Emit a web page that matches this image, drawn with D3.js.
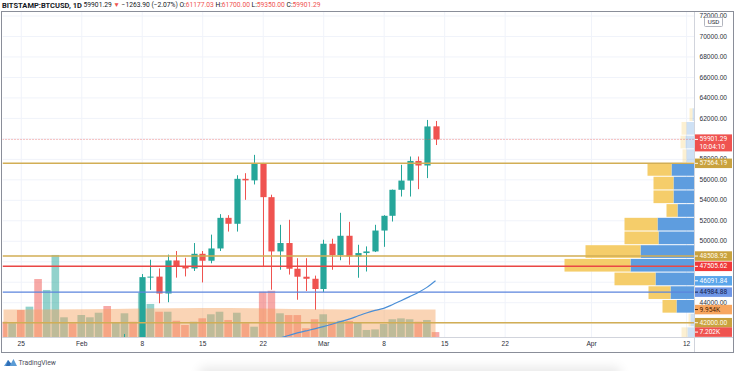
<!DOCTYPE html>
<html>
<head>
<meta charset="utf-8">
<script src="https://cdn.jsdelivr.net/npm/d3@7"></script>
<style>
  html, body { margin: 0; padding: 0; background: #fff; }
  svg { display: block; font-family: Roboto, "Liberation Sans", Arial, sans-serif; }
</style>
</head>
<body>
<div id="chart"></div>
<script>
// BITSTAMP:BTCUSD daily candles, 23 Jan - 14 Mar 2021
const dates = [
  '2021-01-23','2021-01-24','2021-01-25','2021-01-26','2021-01-27','2021-01-28','2021-01-29','2021-01-30','2021-01-31',
  '2021-02-01','2021-02-02','2021-02-03','2021-02-04','2021-02-05','2021-02-06','2021-02-07','2021-02-08','2021-02-09',
  '2021-02-10','2021-02-11','2021-02-12','2021-02-13','2021-02-14','2021-02-15','2021-02-16','2021-02-17','2021-02-18',
  '2021-02-19','2021-02-20','2021-02-21','2021-02-22','2021-02-23','2021-02-24','2021-02-25','2021-02-26','2021-02-27',
  '2021-02-28','2021-03-01','2021-03-02','2021-03-03','2021-03-04','2021-03-05','2021-03-06','2021-03-07','2021-03-08',
  '2021-03-09','2021-03-10','2021-03-11','2021-03-12','2021-03-13','2021-03-14'
];
const open = [
  32950, 32080, 32270, 32260, 32500, 30400, 33400, 34280, 34300,
  33100, 33500, 35500, 37650, 36950, 38280, 39250, 38850, 46450,
  46500, 44850, 48080, 47490, 47300, 48730, 48050, 49250, 52240,
  51660, 56050, 55900, 57580, 54260, 48960, 49780, 47270, 46490,
  46290, 45290, 49710, 48600, 50490, 48470, 48800, 48960, 51000,
  52440, 54980, 55880, 57800, 57350, 61177.03
];
const high = [
  33800, 32950, 34880, 32900, 32550, 33800, 38500, 34900, 34350,
  34700, 35900, 37700, 38700, 38300, 40900, 39700, 46750, 48150,
  47300, 48650, 49000, 48340, 49780, 49000, 50600, 52600, 52500,
  56400, 56600, 58390, 57600, 54500, 51560, 52050, 48300, 48300,
  46600, 50100, 50200, 52730, 51850, 49610, 49450, 51560, 52500,
  55000, 57420, 58230, 58230, 61800, 61700
];
const low = [
  31900, 30950, 31900, 30830, 29240, 29900, 31950, 32800, 32200,
  32300, 33450, 35400, 36200, 36600, 38200, 37400, 38100, 45200,
  43900, 44000, 46400, 46520, 47050, 45930, 47800, 49000, 50900,
  50900, 54000, 55500, 47500, 45220, 47170, 46700, 44240, 45100,
  43270, 45000, 47170, 48100, 47660, 46390, 47000, 48900, 49410,
  51880, 54320, 54320, 55040, 56120, 59350
];
const close = [
  32080, 32270, 32260, 32500, 30400, 33400, 34280, 34300, 33100,
  33500, 35500, 37650, 36950, 38280, 39250, 38850, 46450, 46500,
  44850, 48080, 47490, 47300, 48730, 48050, 49250, 52240, 51660,
  56050, 55900, 57580, 54260, 48960, 49780, 47270, 46490, 46290,
  45290, 49710, 48600, 50490, 48470, 48800, 48960, 51000, 52440,
  54980, 55880, 57800, 57350, 61165, 59901.29
];
// volume, thousands of BTC
const volume = [
  8.47, 8.28, 9.90, 10.31, 13.69, 12.35, 16.63, 9.01, 8.28,
  9.29, 9.01, 9.57, 10.39, 8.35, 9.50, 8.47, 12.0, 10.64,
  9.69, 9.69, 8.59, 8.07, 8.47, 8.89, 9.38, 9.69, 8.68,
  9.57, 8.28, 7.86, 12.14, 12.25, 9.50, 9.28, 9.28, 7.67,
  8.77, 9.38, 8.47, 8.59, 8.56, 8.35, 7.46, 7.53, 8.19,
  8.77, 8.88, 8.77, 8.47, 8.68, 7.202
];

// volume moving average (shaded band)
const volMaDates = ['2021-01-23','2021-02-01','2021-02-08','2021-02-15','2021-02-22','2021-03-01','2021-03-08','2021-03-14'];
const volMa = [9.95, 10.0, 10.1, 10.15, 10.1, 10.0, 9.95, 9.954];

// price moving average (blue curve)
const maDates = [
  '2021-02-22','2021-02-23','2021-02-24','2021-02-25','2021-02-26','2021-02-27','2021-02-28',
  '2021-03-01','2021-03-02','2021-03-03','2021-03-04','2021-03-05','2021-03-06','2021-03-07',
  '2021-03-08','2021-03-09','2021-03-10','2021-03-11','2021-03-12','2021-03-13','2021-03-14'
];
const ma = [
  39900, 40200, 40500, 40750, 41000, 41200, 41400,
  41620, 41850, 42100, 42350, 42650, 42950, 43200,
  43400, 43750, 44150, 44550, 44950, 45450, 46091.84
];

// horizontal levels drawn on the chart
const levelPrices = [57564.19, 48508.92, 47505.62, 44984.88, 42000.00];
const levelTypes = ['gold', 'gold', 'red', 'blue', 'gold'];

// visible range volume profile: row low price, down / up volume (K BTC)
const profileLow = [40258, 41595, 42932, 44269, 45606, 46943, 48280, 49617, 50954, 52291, 53628, 54965, 56302, 57639, 58976, 60313, 61650];
const profileStep = 1337;
const profileDown = [3, 1, 7, 11, 20.5, 33, 27.5, 17, 16.5, 5.5, 10, 10, 12, 2, 2.5, 2.5, 1.5];
const profileUp = [3.5, 2, 9, 12, 19.5, 32, 27, 18, 18.5, 8.5, 10.5, 10.5, 11.5, 4, 4.5, 4, 1];
const valueArea = [42932, 57639];

const priceTicks = [42000, 44000, 46000, 48000, 50000, 52000, 54000, 56000, 58000, 60000, 62000, 64000, 66000, 68000, 70000, 72000];
const timeTicks = ['2021-01-25','2021-02-01','2021-02-08','2021-02-15','2021-02-22','2021-03-01','2021-03-08','2021-03-15','2021-03-22','2021-04-01','2021-04-12'];

const header = { symbol: 'BITSTAMP:BTCUSD, 1D', last: '59901.29', change: '\u22121263.90 (\u22122.07%)',
  o: '61177.03', h: '61700.00', l: '59350.00', c: '59901.29' };
const countdown = '10:04:10';

// styles
const UP = '#26a69a', DOWN = '#ef5350';
const LEVEL_STYLE = {
  gold: { line: '#d2ae55', bg: '#c9a23e', fg: '#fffbea', w: 1.6 },
  red: { line: '#ea4745', bg: '#f0393a', fg: '#ffffff', w: 1.4 },
  blue: { line: '#5b84dd', bg: '#6e95e6', fg: '#15204a', w: 1.1 }
};
const TEXT = '#2a2e39';
const GRID = '#f0f3fa';

const W = 736, H = 371;
const plot = { left: 2.5, right: 694.5, top: 11.5, bottom: 337.5 };

const svg = d3.select('#chart').append('svg')
  .attr('width', W)
  .attr('height', H);

const parse = d3.utcParse('%Y-%m-%d');
const days = dates.map(parse);

const x = d3.scaleUtc()
  .domain([parse('2021-01-23'), parse('2021-04-12')])
  .range([3.5, 686.1]);
const dayW = x(parse('2021-01-24')) - x(parse('2021-01-23'));

const y = d3.scaleLinear().domain([42000, 72000]).range([322.7, 15.5]);
const yVol = d3.scaleLinear().domain([0, 10]).range([391, 309.2]);
const xProf = d3.scaleLinear().domain([0, 65]).range([0, 130]);

const defs = svg.append('defs');
defs.append('clipPath').attr('id', 'plotClip')
  .append('rect')
  .attr('x', plot.left).attr('y', plot.top)
  .attr('width', plot.right - plot.left).attr('height', plot.bottom - plot.top);
defs.append('filter').attr('id', 'soft')
  .attr('x', '-20%').attr('y', '-200%').attr('width', '140%').attr('height', '500%')
  .append('feGaussianBlur').attr('stdDeviation', 6);

// soft shadow under the card
svg.append('rect')
  .attr('x', 200).attr('y', 368).attr('width', 420).attr('height', 12)
  .attr('fill', '#000').attr('opacity', 0.1)
  .attr('filter', 'url(#soft)');

// grid
const gridG = svg.append('g').attr('clip-path', 'url(#plotClip)');
gridG.append('g')
  .attr('transform', `translate(0,${plot.bottom})`)
  .call(d3.axisBottom(x).tickValues(timeTicks.map(parse)).tickSize(-(plot.bottom - plot.top)).tickFormat(''))
  .call(g => g.select('.domain').remove())
  .call(g => g.selectAll('line').attr('stroke', GRID));
gridG.append('g')
  .attr('transform', `translate(${plot.right},0)`)
  .call(d3.axisLeft(y).tickValues(priceTicks).tickSize(plot.right - plot.left).tickFormat(''))
  .call(g => g.select('.domain').remove())
  .call(g => g.selectAll('line').attr('stroke', GRID));

const body = svg.append('g').attr('clip-path', 'url(#plotClip)');

const bars = dates.map((d, i) => ({ date: days[i], o: open[i], h: high[i], l: low[i], c: close[i], v: volume[i] }));

// volume bars
body.append('g').attr('class', 'volume')
  .selectAll('rect')
  .data(bars)
  .enter().append('rect')
  .attr('x', d => x(d.date) - (dayW - 1) / 2)
  .attr('y', d => yVol(d.v))
  .attr('width', dayW - 1)
  .attr('height', d => yVol(0) - yVol(d.v))
  .attr('fill', d => d.c >= d.o ? UP : DOWN)
  .attr('fill-opacity', 0.5);

// volume MA band
const volMaPts = volMaDates.map((d, i) => ({ date: parse(d), v: volMa[i] }));
body.append('path')
  .datum(volMaPts)
  .attr('d', d3.area().x(d => x(d.date)).y0(yVol(0)).y1(d => yVol(d.v)).curve(d3.curveMonotoneX))
  .attr('fill', '#f5a05a')
  .attr('fill-opacity', 0.45);

// volume profile
const inVA = p => p >= valueArea[0] && p < valueArea[1];
const rowH = y(profileLow[0]) - y(profileLow[0] + profileStep);
const prof = profileLow.map((p, i) => ({ p, down: profileDown[i], up: profileUp[i] }));
const profG = body.append('g').attr('class', 'profile');
profG.selectAll('rect.up')
  .data(prof)
  .enter().append('rect')
  .attr('class', 'up')
  .attr('x', d => plot.right - xProf(d.up))
  .attr('y', d => y(d.p + profileStep) + 0.5)
  .attr('width', d => xProf(d.up))
  .attr('height', rowH - 1)
  .attr('fill', '#5e9ddf')
  .attr('fill-opacity', d => inVA(d.p) ? 1 : 0.3);
profG.selectAll('rect.down')
  .data(prof)
  .enter().append('rect')
  .attr('class', 'down')
  .attr('x', d => plot.right - xProf(d.up) - xProf(d.down))
  .attr('y', d => y(d.p + profileStep) + 0.5)
  .attr('width', d => xProf(d.down))
  .attr('height', rowH - 1)
  .attr('fill', '#f5cd6a')
  .attr('fill-opacity', d => inVA(d.p) ? 1 : 0.3);

// candles
const candleW = 6.2;
const candles = body.append('g').attr('class', 'candles');
candles.selectAll('line')
  .data(bars)
  .enter().append('line')
  .attr('x1', d => Math.round(x(d.date)) + 0.5)
  .attr('x2', d => Math.round(x(d.date)) + 0.5)
  .attr('y1', d => y(d.h))
  .attr('y2', d => y(d.l))
  .attr('stroke', d => d.c >= d.o ? UP : DOWN)
  .attr('stroke-width', 1);
candles.selectAll('rect')
  .data(bars)
  .enter().append('rect')
  .attr('x', d => Math.round(x(d.date)) + 0.5 - candleW / 2)
  .attr('y', d => y(Math.max(d.o, d.c)))
  .attr('width', candleW)
  .attr('height', d => Math.max(1, Math.abs(y(d.o) - y(d.c))))
  .attr('fill', d => d.c >= d.o ? UP : DOWN);

// level lines
body.append('g').attr('class', 'levels')
  .selectAll('line')
  .data(levelPrices)
  .enter().append('line')
  .attr('x1', plot.left).attr('x2', plot.right)
  .attr('y1', d => y(d)).attr('y2', d => y(d))
  .attr('stroke', (d, i) => LEVEL_STYLE[levelTypes[i]].line)
  .attr('stroke-width', (d, i) => LEVEL_STYLE[levelTypes[i]].w);

// moving average
const maPts = maDates.map((d, i) => ({ date: parse(d), v: ma[i] }));
body.append('path')
  .datum(maPts)
  .attr('d', d3.line().x(d => x(d.date)).y(d => y(d.v)).curve(d3.curveMonotoneX))
  .attr('fill', 'none')
  .attr('stroke', '#4a8ed6')
  .attr('stroke-width', 1.2);

// last price dotted line
const lastPrice = close[close.length - 1];
body.append('line')
  .attr('x1', plot.left).attr('x2', plot.right)
  .attr('y1', y(lastPrice)).attr('y2', y(lastPrice))
  .attr('stroke', DOWN)
  .attr('stroke-opacity', 0.7)
  .attr('stroke-dasharray', '1,2');

// frame and separators
svg.append('line')
  .attr('x1', plot.right).attr('x2', plot.right)
  .attr('y1', plot.top).attr('y2', 352.5)
  .attr('stroke', '#d1d4dc');
svg.append('line')
  .attr('x1', plot.left).attr('x2', 733.5)
  .attr('y1', plot.bottom).attr('y2', plot.bottom)
  .attr('stroke', '#d1d4dc');
svg.append('rect')
  .attr('x', 1.5).attr('y', plot.top)
  .attr('width', 732).attr('height', 352.5 - plot.top)
  .attr('fill', 'none')
  .attr('stroke', '#8a8e99');

// y positions taken by the coloured axis labels
const labelYs = levelPrices.map(y)
  .concat([y(ma[ma.length - 1]), yVol(volMa[volMa.length - 1]), yVol(volume[volume.length - 1]), y(close[close.length - 1]) + 3.5]);
// tick labels fully hidden behind a coloured label are not drawn (58000 stays, half covered)
const shownTicks = priceTicks.filter(t => !labelYs.some(ly => Math.abs(ly - y(t)) < 6.5) || t === 58000);

// price axis
svg.append('g')
  .attr('transform', `translate(${plot.right},0)`)
  .call(d3.axisRight(y).tickValues(shownTicks).tickSize(0).tickPadding(5).tickFormat(d3.format('.2f')))
  .call(g => g.select('.domain').remove())
  .call(g => g.selectAll('text').attr('fill', TEXT).style('font-size', '6.6px').attr('font-family', null));

// time axis
const monthFmt = d3.utcFormat('%b'), dayFmt = d3.utcFormat('%-d');
svg.append('g')
  .attr('transform', `translate(0,${plot.bottom})`)
  .call(d3.axisBottom(x).tickValues(timeTicks.map(parse)).tickSize(0).tickPadding(4)
    .tickFormat(d => d.getUTCDate() === 1 ? monthFmt(d) : dayFmt(d)))
  .call(g => g.select('.domain').remove())
  .call(g => g.selectAll('text').attr('fill', TEXT).style('font-size', '6.6px').attr('font-family', null));

// axis labels
const labelsG = svg.append('g').attr('class', 'axisLabels');
function axisLabel(yc, lines, bg, fg) {
  const h = lines.length > 1 ? 17 : 9.5;
  const top = lines.length > 1 ? yc - 5 : yc - h / 2;
  const g = labelsG.append('g');
  g.append('rect')
    .attr('x', plot.right + 0.5).attr('y', top)
    .attr('width', 37).attr('height', h)
    .attr('fill', bg);
  g.append('line')
    .attr('x1', plot.right + 0.5).attr('x2', plot.right + 3.5)
    .attr('y1', yc).attr('y2', yc)
    .attr('stroke', fg);
  lines.forEach((t, k) => {
    g.append('text')
      .attr('x', 699.5).attr('y', top + 4.9 + k * 8)
      .attr('dominant-baseline', 'central')
      .style('font-size', '6.6px')
      .attr('fill', fg)
      .text(t);
  });
}

levelPrices.forEach((p, i) => {
  const s = LEVEL_STYLE[levelTypes[i]];
  axisLabel(y(p), [d3.format('.2f')(p)], s.bg, s.fg);
});
axisLabel(y(ma[ma.length - 1]), [d3.format('.2f')(ma[ma.length - 1])], '#5aa5ea', '#ffffff');
axisLabel(yVol(volMa[volMa.length - 1]), [d3.format('.3f')(volMa[volMa.length - 1]) + 'K'], '#f7a660', '#4a1d00');
axisLabel(yVol(volume[volume.length - 1]), [d3.format('.3f')(volume[volume.length - 1]) + 'K'], DOWN, '#ffffff');
axisLabel(y(lastPrice), [d3.format('.2f')(lastPrice), countdown], DOWN, '#ffffff');

// currency box
svg.append('rect')
  .attr('x', 704.5).attr('y', 17.5).attr('width', 18).attr('height', 9)
  .attr('rx', 1)
  .attr('fill', '#fff').attr('stroke', '#b2b5be');
svg.append('text')
  .attr('x', 713.5).attr('y', 22.2)
  .attr('text-anchor', 'middle').attr('dominant-baseline', 'central')
  .style('font-size', '6.2px').attr('fill', TEXT)
  .text('USD');

// header legend: bold symbol, then narrower values
const legend = svg.append('text')
  .attr('x', 2).attr('y', 4.8)
  .attr('dominant-baseline', 'central')
  .style('font-size', '6.7px');
legend.append('tspan').attr('font-weight', 'bold').style('font-size', '7.5px').attr('fill', '#131722').text(header.symbol);
legend.append('tspan').attr('fill', '#131722').text(' ' + header.last + ' ');
legend.append('tspan').attr('fill', DOWN).text('\u25BC');
legend.append('tspan').attr('fill', '#131722').text(' ' + header.change + ' ');
[['O:', header.o], ['H:', header.h], ['L:', header.l], ['C:', header.c]].forEach(([k, v], i) => {
  legend.append('tspan').attr('fill', '#131722').text((i ? ' ' : '') + k);
  legend.append('tspan').attr('fill', DOWN).text(v);
});

// tradingview mark
const logo = svg.append('g').attr('transform', 'translate(4,357)');
logo.append('path')
  .attr('d', 'M0,9 L4,3 L7,6.5 L9.5,2 L13,9 Z')
  .attr('fill', '#5b9bd5');
logo.append('path')
  .attr('d', 'M4,3 L7,6.5 L5.5,9 L2,9 Z')
  .attr('fill', '#2f6fb8');
svg.append('text')
  .attr('x', 18.5).attr('y', 362.5)
  .attr('dominant-baseline', 'central')
  .style('font-size', '6.8px')
  .attr('fill', '#4a4e59')
  .text('TradingView');
</script>
</body>
</html>
